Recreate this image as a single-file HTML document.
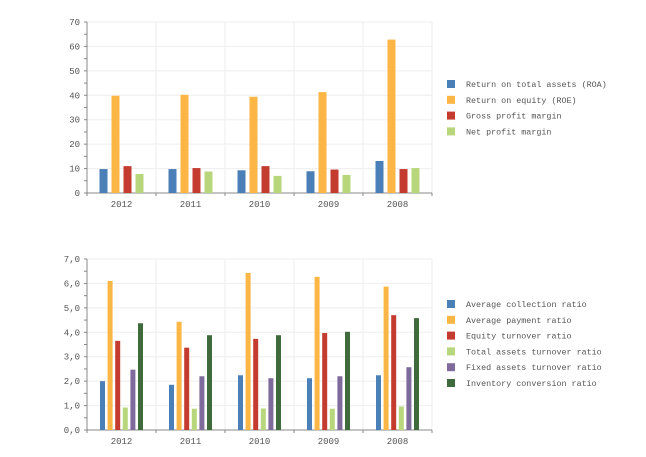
<!DOCTYPE html>
<html><head><meta charset="utf-8"><style>
body{margin:0;background:#fff;width:646px;height:452px;overflow:hidden}
text{font-family:"Liberation Mono","DejaVu Sans Mono",monospace;fill:#555}
</style></head><body>
<svg id="s" width="646" height="452" xmlns="http://www.w3.org/2000/svg"></svg>
<script>
var s=document.getElementById('s'),h='';
var years=['2012','2011','2010','2009','2008'];
function chart(y0,max,step,labels,vals,cols,bw,bs,names,ly,fmt){
  var top=y0-171,sc=171/max;
  // grid
  for(var i=0;i<5;i++){var x=87+69*(i+1);h+='<line x1="'+x+'" y1="'+top+'" x2="'+x+'" y2="'+y0+'" stroke="#eee"/>';}
  for(var v=step;v<=max+1e-9;v+=step){var y=y0-v*sc;h+='<line x1="87" y1="'+y+'" x2="432" y2="'+y+'" stroke="#eee"/>';}
  for(var v=0;v<=max+1e-9;v+=step/2){var y=y0-v*sc;h+='<line x1="84" y1="'+y+'" x2="87" y2="'+y+'" stroke="#888"/>';}
  for(var v=0;v<=max+1e-9;v+=step){var y=y0-v*sc;h+='<text x="80" y="'+(y+3)+'" font-size="9" text-anchor="end">'+fmt(v)+'</text>';}
  h+='<line x1="87" y1="'+top+'" x2="87" y2="'+y0+'" stroke="#888"/><line x1="87" y1="'+y0+'" x2="432" y2="'+y0+'" stroke="#888"/>';
  for(var i=0;i<=5;i++){var x=87+69*i;h+='<line x1="'+x+'" y1="'+y0+'" x2="'+x+'" y2="'+(y0+3)+'" stroke="#888"/>';}
  for(var i=0;i<5;i++){
    h+='<text x="'+(121.5+69*i)+'" y="'+(y0+14)+'" font-size="9" text-anchor="middle">'+years[i]+'</text>';
    var n=vals[i].length,w=(n-1)*bs+bw,x0=121.5+69*i-w/2;
    for(var j=0;j<n;j++){var bh=vals[i][j]*sc;h+='<rect x="'+(x0+j*bs)+'" y="'+(y0-bh)+'" width="'+bw+'" height="'+bh+'" fill="'+cols[j]+'"/>';}
  }
  for(var j=0;j<names.length;j++){var y=ly+j*15.8;h+='<rect x="447" y="'+(y-4)+'" width="8" height="8" fill="'+cols[j]+'"/><text x="466" y="'+(y+3)+'" font-size="8.4" fill="#444">'+names[j]+'</text>';}
}
chart(193,70,10,null,[[9.8,39.8,11,7.8],[9.8,40.2,10.2,8.8],[9.3,39.4,11,7],[8.9,41.3,9.6,7.4],[13.1,62.8,9.8,10.2]],
 ['#4a7fb8','#fbb645','#c43b2f','#b8d67c'],8,12,['Return on total assets (ROA)','Return on equity (ROE)','Gross profit margin','Net profit margin'],84,function(v){return Math.round(v)});
chart(430,7,1,null,[[2.0,6.1,3.65,0.92,2.47,4.37],[1.85,4.43,3.37,0.87,2.2,3.88],[2.24,6.43,3.73,0.88,2.12,3.88],[2.12,6.27,3.97,0.87,2.2,4.02],[2.24,5.87,4.7,0.96,2.57,4.58]],
 ['#4a7fb8','#fbb645','#c43b2f','#b8d67c','#7e6b9b','#3f6b3c'],5,7.6,['Average collection ratio','Average payment ratio','Equity turnover ratio','Total assets turnover ratio','Fixed assets turnover ratio','Inventory conversion ratio'],304,function(v){return v.toFixed(1).replace('.',',')});
s.innerHTML=h;
</script>
</body></html>
